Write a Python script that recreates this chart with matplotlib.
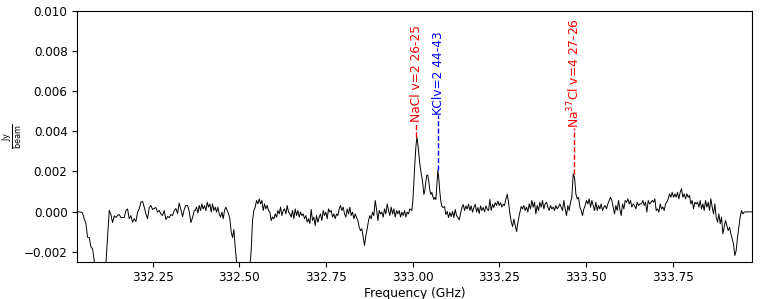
import numpy as np
import matplotlib
matplotlib.use('Agg')
import matplotlib.pyplot as plt

# spectrum, in mJy/beam, piece by piece (start GHz, end GHz)
seg1_range = (332.0337, 332.3702)
seg1 = [0.0, -0.02, -0.03, -0.08, -0.36, -0.6, -1.28, -1.3, -1.75, -1.86,
        -2.44, -3.2, -3.6, -3.8, -3.8, -3.6, -3.2, -2.6, -1.3, 0.05,
        -0.15, -0.55, -0.22, -0.3, -0.2, -0.15, -0.3, -0.3, -0.3, 0.05,
        0.13, -0.36, -0.2, -0.53, -0.36, -0.5, -0.03, 0.13, 0.46, 0.51,
        0.22, -0.12, -0.36, 0.2, 0.3, 0.1, 0.15, 0.2, -0.03, 0.05,
        -0.12, -0.2, 0.05, -0.4, -0.25, -0.3, -0.15, -0.2, 0.05, 0.15,
        -0.1, 0.42, 0.1, -0.25, 0.1, 0.3, 0.3, 0.0, -0.55, -0.3,
        0.05]

seg2_range = (332.3730, 332.7038)
seg2 = [0.05, 0.22, -0.08, 0.3, 0.05, 0.38, 0.13, 0.3, 0.05, 0.46,
        0.22, 0.38, -0.03, 0.38, 0.05, 0.22, -0.03, 0.22, -0.12, -0.28,
        -0.03, -0.36, 0.05, 0.22, 0.05, -0.12, -0.36, -1.03, -1.3, -0.9,
        -1.77, -2.49, -3.3, -3.8, -4.0, -4.2, -4.2, -4.1, -3.9, -3.6,
        -3.2, -2.8, -1.9, -0.45, 0.05, 0.22, 0.55, 0.38, 0.63, 0.38,
        0.55, 0.05, 0.38, 0.13, 0.3, 0.05, -0.03, -0.45, -0.28, -0.36,
        -0.12, -0.28, 0.05, -0.12, 0.22, -0.2, 0.05, 0.13, -0.12, 0.3,
        -0.03, -0.12, -0.28, 0.05, -0.36, 0.13, -0.2, 0.05, -0.28, -0.03,
        -0.2, -0.12, -0.36, -0.2, -0.53, -0.36, -0.6]

seg3_range = (332.7076, 332.9922)
seg3 = [0.1, -0.45, -0.28, -0.7, -0.2, -0.53, -0.28, -0.12, -0.45, 0.05,
        -0.2, -0.03, -0.36, 0.13, -0.03, 0.05, -0.28, -0.12, -0.36, -0.12,
        -0.2, 0.13, 0.3, 0.05, 0.22, -0.12, -0.28, 0.13, -0.12, 0.22,
        -0.2, -0.03, -0.36, -0.12, -0.28, -0.45, -0.78, -0.95, -0.86, -1.28,
        -1.69, -1.19, -0.86, -0.45, -0.2, -0.36, -0.03, -0.2, 0.55, 0.13,
        -0.45, 0.05, -0.12, -0.03, -0.28, 0.13, -0.12, 0.38, 0.05, -0.2,
        0.22, -0.12, 0.13, -0.28, 0.05, -0.12, 0.05, -0.28, -0.03, -0.2,
        0.05, -0.28, -0.03, -0.12, 0.13]

seg4_range = (332.9951, 333.0845)
seg4 = [0.1, 0.05, 0.55, 1.5, 2.4, 3.2, 3.7, 3.37, 2.85, 2.35,
        2.0, 1.71, 1.35, 0.85, 1.05, 1.5, 1.82, 1.8, 1.45, 1.04,
        0.85, 0.95, 0.75, 0.6, 0.7, 0.6, 1.35, 2.05, 1.6, 0.95,
        0.5, 0.25]

seg5_range = (333.0884, 333.3076)
seg5 = [0.2, 0.25, -0.15, 0.0, -0.3, -0.05, -0.25, 0.0, -0.3, 0.1,
        -0.2, -0.3, -0.42, -0.1, 0.2, 0.35, 0.05, 0.28, 0.12, 0.36,
        0.05, 0.28, -0.03, 0.2, 0.36, -0.02, 0.2, -0.1, 0.28, 0.05,
        0.2, -0.02, 0.28, 0.12, 0.05, 0.6, 0.05, 0.36, 0.2, 0.44,
        0.3, 0.52, 0.3, 0.44, 0.22, 0.36, 0.3, 0.62, 0.86, 0.45,
        -0.1, -0.5, -0.75, -0.38, -0.7, -1.0, -0.55, -0.2]

seg6_range = (333.3133, 333.6556)
seg6 = [0.25, 0.13, 0.3, 0.05, 0.22, -0.03, 0.38, 0.13, 0.55, 0.22,
        0.46, -0.12, 0.3, 0.05, 0.46, 0.22, 0.55, 0.13, 0.38, 0.46,
        0.22, 0.05, 0.3, 0.13, 0.22, 0.05, 0.3, 0.13, 0.22, 0.38,
        0.22, 0.05, 0.55, 0.13, -0.2, 0.3, 0.05, 0.46, 0.71, 1.87,
        1.7, 0.88, 0.63, 0.71, 0.22, 0.05, -0.2, 0.13, 0.3, 0.55,
        0.38, 0.63, 0.22, 0.55, 0.3, 0.05, 0.46, 0.05, 0.3, 0.13,
        0.38, 0.05, 0.22, 0.3, 0.13, 0.38, 0.55, 0.71, 0.55, 0.22,
        -0.12, 0.3, 0.05, 0.55, 0.13, -0.2, 0.38, 0.13, 0.55, 0.46,
        0.63, 0.38, 0.55, 0.22, 0.38, 0.3, 0.13, 0.46, 0.3, 0.38]

seg7_range = (333.6604, 333.9796)
seg7 = [0.38, 0.55, 0.3, 0.46, -0.03, 0.55, 0.38, 0.46, 0.55, 0.46,
        0.63, 0.05, 0.13, -0.03, 0.38, 0.13, 0.22, 0.05, 0.38, 0.46,
        0.63, 0.88, 0.71, 0.96, 0.71, 0.88, 0.71, 0.96, 0.63, 0.96,
        1.13, 0.71, 0.88, 0.63, 0.88, 0.71, 0.8, 0.38, 0.55, 0.13,
        0.46, 0.38, 0.46, 0.22, 0.55, 0.13, 0.38, 0.05, 0.55, 0.22,
        0.46, 0.05, 0.63, 0.22, -0.12, 0.38, -0.28, -0.53, -0.12, -0.61,
        -0.28, -1.11, -0.78, -0.45, -0.7, -0.95, -0.78, -1.11, -1.36, -1.61,
        -2.19, -1.94, -1.28, -0.78, -0.28, 0.05, -0.12, -0.03, -0.02, -0.02,
        -0.02, -0.02, -0.02, -0.02]

# line identifications
line_names = ['NaCl v=2 26-25', 'KClv=2 44-43', 'Na$^{37}$Cl v=4 27-26']
line_freqs = [333.0105, 333.074, 333.465]
line_peaks = [3.7e-3, 2.05e-3, 1.87e-3]
line_text_y = [4.45e-3, 4.8e-3, 4.15e-3]
line_colors = ['red', 'blue', 'red']

# build frequency / flux arrays
segments = [(seg1_range, seg1), (seg2_range, seg2), (seg3_range, seg3),
            (seg4_range, seg4), (seg5_range, seg5), (seg6_range, seg6),
            (seg7_range, seg7)]
freq = np.concatenate([np.linspace(r[0], r[1], len(v)) for r, v in segments])
flux = np.concatenate([np.array(v) for r, v in segments]) * 1e-3

fig = plt.figure(figsize=(7.61, 2.99), dpi=100)
ax = fig.add_axes([0.1016, 0.1247, 0.8870, 0.8395])

ax.plot(freq, flux, color='k', linewidth=0.7)

for name, f, peak, ty, c in zip(line_names, line_freqs, line_peaks, line_text_y, line_colors):
    ax.vlines(f, peak, ty, colors=c, linestyles='--', linewidth=1.0)
    ax.text(f, ty, name, color=c, rotation=90, ha='center', va='bottom', fontsize=8.8)

ax.set_xlim(332.033, 333.98)
ax.set_ylim(-0.0025, 0.010)
ax.set_xticks([332.25, 332.50, 332.75, 333.00, 333.25, 333.50, 333.75])
ax.set_xticklabels(['332.25', '332.50', '332.75', '333.00', '333.25', '333.50', '333.75'])
ax.set_yticks([-0.002, 0.0, 0.002, 0.004, 0.006, 0.008, 0.010])
ax.tick_params(labelsize=8.6)
ax.set_xlabel('Frequency (GHz)', fontsize=8.8, labelpad=2)
ax.set_ylabel(r'$\frac{\mathrm{Jy}}{\mathrm{beam}}$', fontsize=8.5)
ax.yaxis.set_label_coords(-0.078, 0.5)

plt.savefig('out.png', dpi=100)
